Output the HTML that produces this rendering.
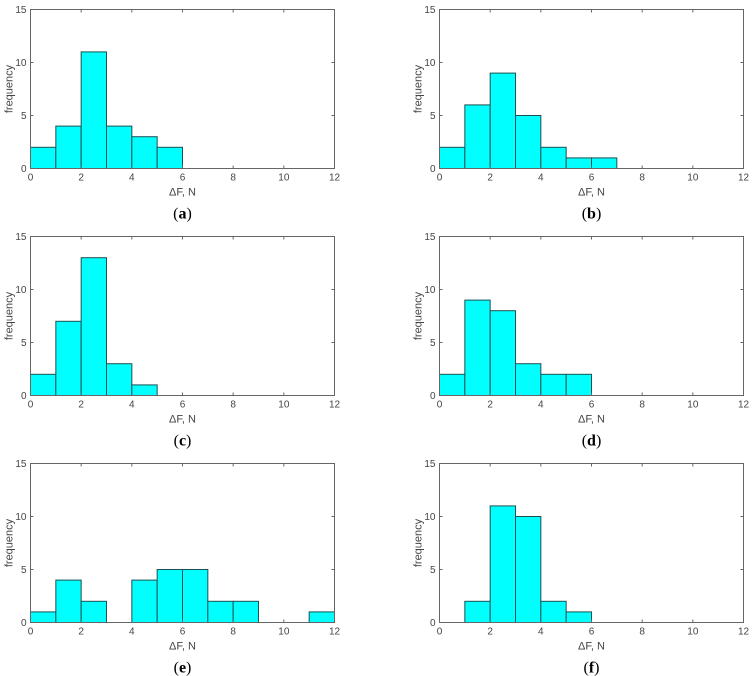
<!DOCTYPE html>
<html><head><meta charset="utf-8"><style>
body{margin:0;background:#fff;width:754px;height:676px;overflow:hidden}
svg{display:block}
</style></head><body>
<svg id="fig" width="754" height="676"></svg>
<script>
const binEdges=[0,1,2,3,4,5,6,7,8,9,10,11,12];
const xTicks=[0,2,4,6,8,10,12];
const yTicks=[0,5,10,15];
const countsA=[2,4,11,4,3,2,0,0,0,0,0,0];
const countsB=[2,6,9,5,2,1,1,0,0,0,0,0];
const countsC=[2,7,13,3,1,0,0,0,0,0,0,0];
const countsD=[2,9,8,3,2,2,0,0,0,0,0,0];
const countsE=[1,4,2,0,4,5,5,2,2,0,0,1];
const countsF=[0,2,11,10,2,1,0,0,0,0,0,0];
const panelLabels=['a','b','c','d','e','f'];
const allCounts=[countsA,countsB,countsC,countsD,countsE,countsF];
const NS='http://www.w3.org/2000/svg';
const svg=document.getElementById('fig');
function mk(tag,attrs,parent){const e=document.createElementNS(NS,tag);for(const k in attrs)e.setAttribute(k,attrs[k]);(parent||svg).appendChild(e);return e;}
const W=304,H=159;
for(let p=0;p<6;p++){
  const col=p%2,row=Math.floor(p/2);
  const L=col?439.5:30.5,T=9.5+row*227,B=T+H;
  const xs=v=>L+v/12*W, ys=v=>B-v/15*H;
  const g=mk('g',{});
  
  
  const counts=allCounts[p];
  for(let i=0;i<counts.length;i++){
    if(counts[i]<=0)continue;
    const r=mk('rect',{x:xs(binEdges[i]),y:ys(counts[i]),width:xs(binEdges[i+1])-xs(binEdges[i]),height:B-ys(counts[i]),fill:'#00ffff',stroke:'#1e5050','stroke-width':1},g);
    
    
  }
  const ax=mk('rect',{x:L,y:T,width:W,height:H,fill:'none',stroke:'#666','stroke-width':1},g);
  
  
  for(const t of xTicks){
    mk('line',{x1:xs(t),x2:xs(t),y1:B,y2:B-3,stroke:'#666'},g);
    mk('line',{x1:xs(t),x2:xs(t),y1:T,y2:T+3,stroke:'#666'},g);
    const tx=mk('text',{x:xs(t),y:B+12,'text-anchor':'middle','font-size':10,fill:'#444','font-family':'Liberation Sans, sans-serif'},g);
    tx.textContent=t;
    
    
  }
  for(const t of yTicks){
    mk('line',{x1:L,x2:L+3,y1:ys(t),y2:ys(t),stroke:'#666'},g);
    mk('line',{x1:L+W,x2:L+W-3,y1:ys(t),y2:ys(t),stroke:'#666'},g);
    const ty=mk('text',{x:L-4,y:ys(t)+3.5,'text-anchor':'end','font-size':10,fill:'#444','font-family':'Liberation Sans, sans-serif'},g);
    ty.textContent=t;
    
    
  }
  const xl=mk('text',{x:L+W/2,y:B+27,'text-anchor':'middle','font-size':11,fill:'#444','font-family':'Liberation Sans, DejaVu Sans, sans-serif'},g);
  xl.textContent='ΔF, N';
  
  
  const yl=mk('text',{x:0,y:0,'text-anchor':'middle','font-size':11,fill:'#444','font-family':'Liberation Sans, sans-serif',transform:`translate(${L-18},${T+H/2}) rotate(-90)`},g);
  yl.textContent='frequency';
  
  
  const cap=mk('text',{x:L+W/2,y:B+50,'text-anchor':'middle','font-size':16,fill:'#000','font-family':'Liberation Serif, serif'},g);
  cap.innerHTML='(<tspan font-weight="bold">'+panelLabels[p]+'</tspan>)';
  
  
}
</script>
</body></html>
